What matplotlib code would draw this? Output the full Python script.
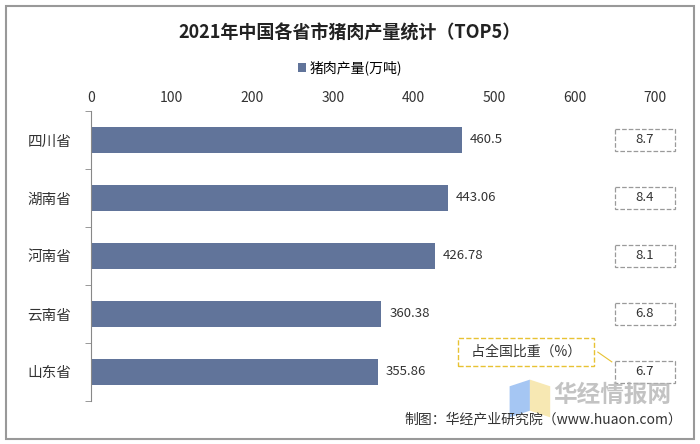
import matplotlib.pyplot as plt
from matplotlib.patches import Rectangle, Polygon

plt.rcParams['font.family'] = ['Noto Sans CJK SC', 'DejaVu Sans']

provinces = ['四川省', '湖南省', '河南省', '云南省', '山东省']
output = [460.5, 443.06, 426.78, 360.38, 355.86]
share = ['8.7', '8.4', '8.1', '6.8', '6.7']
xticks = [0, 100, 200, 300, 400, 500, 600, 700]

fig = plt.figure(figsize=(7, 4.44), dpi=100)
ax = fig.add_axes([0.13, 0.097, 0.806, 0.653])

pos = list(range(len(provinces)))
ax.barh(pos, output, height=0.45, color='#61749A', label='猪肉产量(万吨)')
for y, v in zip(pos, output):
    ax.text(v + 10, y, f'{v:g}', va='center', ha='left', fontsize=9.5, color='#333333')

# share boxes
for y, s in zip(pos, share):
    ax.add_patch(Rectangle((650, y - 0.19), 74, 0.38, fill=False, ec='#9a9a9a',
                           ls='--', lw=0.9, clip_on=False))
    ax.text(687, y, s, va='center', ha='center', fontsize=9.5, color='#333333', clip_on=False)

ax.set_xlim(0, 700)
ax.set_ylim(4.5, -0.5)
ax.xaxis.tick_top()
ax.set_xticks(xticks)
ax.tick_params(axis='x', length=0, labelsize=10, labelcolor='#333333', pad=4)
ax.set_yticks(pos)
ax.set_yticklabels(provinces)
ax.tick_params(axis='y', which='major', length=0, labelsize=10.5, labelcolor='#333333', pad=14)
ax.set_yticks([-0.5, 0.5, 1.5, 2.5, 3.5, 4.5], minor=True)
ax.tick_params(axis='y', which='minor', length=4, color='#888888')
for s in ['top', 'right', 'bottom']:
    ax.spines[s].set_visible(False)
ax.spines['left'].set_color('#888888')

fig.suptitle('2021年中国各省市猪肉产量统计（TOP5）', y=0.947, fontsize=13, fontweight='bold', color='#222222')
fig.legend(loc='center', bbox_to_anchor=(0.5, 0.847), frameon=False, fontsize=10,
           handlelength=0.6, handleheight=0.6, handletextpad=0.3)

# callout
fig.text(0.751, 0.207, '  占全国比重（%）  ', ha='center', va='center', fontsize=10, color='#333333',
         bbox=dict(boxstyle='square,pad=0.5', fc='white', ec='#E8C233', ls='--', lw=1.0))
fig.add_artist(plt.Line2D([0.854, 0.874], [0.207, 0.185], color='#E8C233', lw=0.8))

# watermark
fig.add_artist(Polygon([[0.728, 0.13], [0.757, 0.145], [0.757, 0.075], [0.728, 0.06]],
                       closed=True, fc='#8FB8F0', ec='none', alpha=0.8))
fig.add_artist(Polygon([[0.757, 0.145], [0.786, 0.13], [0.786, 0.06], [0.757, 0.075]],
                       closed=True, fc='#F6E3A0', ec='none', alpha=0.8))
fig.text(0.79, 0.11, '华经情报网', ha='left', va='center', fontsize=17, fontweight='bold',
         color='#b5b5b5', alpha=0.8)
fig.text(0.975, 0.055, '制图：华经产业研究院（www.huaon.com）', ha='right', va='center',
         fontsize=10, color='#333333')

fig.add_artist(Rectangle((0.008, 0.012), 0.984, 0.975, fill=False, ec='#999999', lw=1.5,
                         transform=fig.transFigure))

fig.savefig('out.png', dpi=100)
